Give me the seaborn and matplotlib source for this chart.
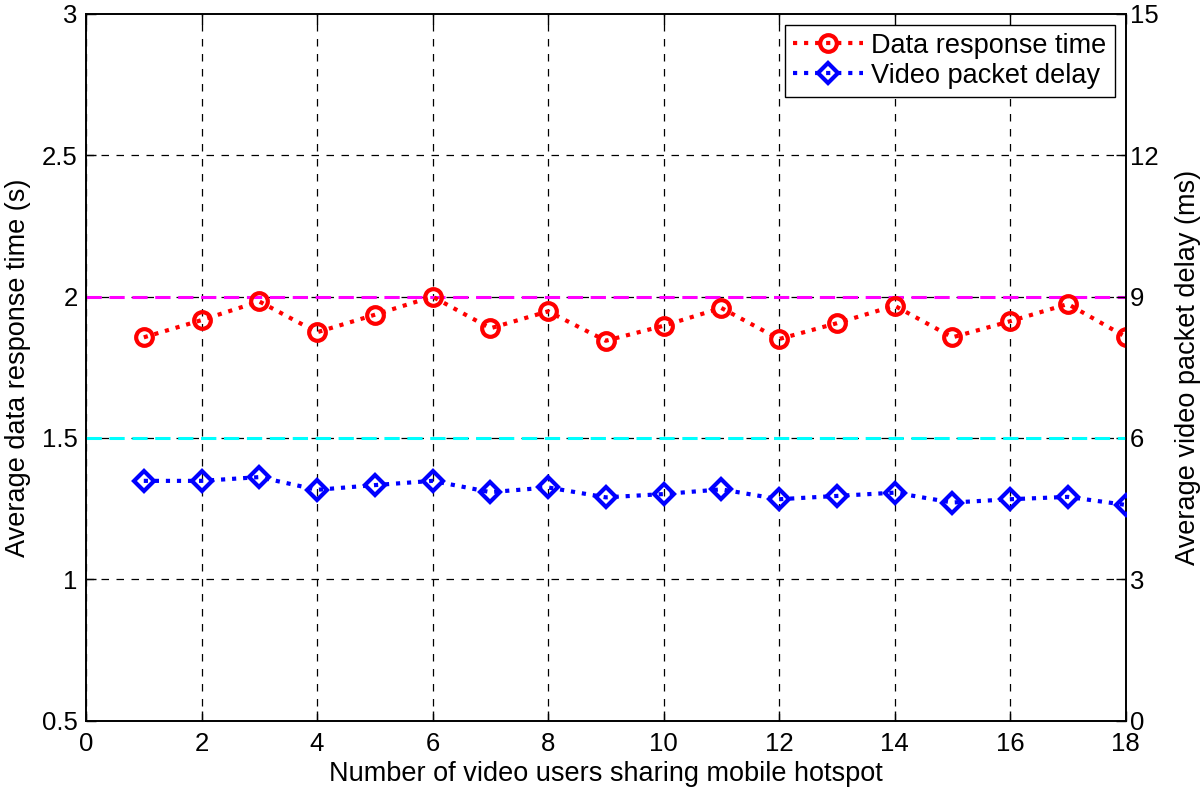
import numpy as np
import pandas as pd
import matplotlib
matplotlib.use('Agg')
import matplotlib.pyplot as plt
import seaborn as sns

# number of video users
users = list(range(1, 19))
# average data response time (s), left axis
response_time = [1.856, 1.917, 1.983, 1.874, 1.936, 2.000, 1.888, 1.948, 1.844,
                 1.897, 1.960, 1.850, 1.906, 1.968, 1.856, 1.913, 1.974, 1.858]
# average video packet delay (ms), right axis
packet_delay = [5.09, 5.09, 5.17, 4.90, 5.00, 5.09, 4.85, 4.95, 4.74,
                4.81, 4.91, 4.70, 4.77, 4.84, 4.63, 4.70, 4.75, 4.58]
response_limit = 2.0   # s
delay_limit = 6.0      # ms

sns.set_style('white')
plt.rcParams['font.family'] = ['Liberation Sans', 'DejaVu Sans']
plt.rcParams['text.color'] = 'black'
plt.rcParams['axes.labelcolor'] = 'black'
plt.rcParams['xtick.color'] = 'black'
plt.rcParams['ytick.color'] = 'black'

df = pd.DataFrame({'users': users, 'response': response_time, 'delay': packet_delay})

fig = plt.figure(figsize=(12, 7.93), dpi=100)
ax1 = fig.add_axes([0.0717, 0.0912, 0.8663, 0.8912])
ax2 = ax1.twinx()

# grid first so the data sits on top
for x in range(0, 19, 2):
    ax1.axvline(x, color='black', ls=(0, (6, 6)), lw=0.9, zorder=0)
for y in [1, 1.5, 2, 2.5]:
    ax1.axhline(y, color='black', ls=(0, (6, 6)), lw=0.9, zorder=0)

ax1.axhline(response_limit, color='#ff00ff', ls=(0, (5, 2.5)), lw=2.2, zorder=1)
ax2.axhline(delay_limit, color='#00ffff', ls=(0, (5, 2.5)), lw=2.2, zorder=1)

sns.lineplot(data=df, x='users', y='response', ax=ax1, color='red', ls=':', lw=3,
             marker='o', markersize=12, markerfacecolor='none', markeredgecolor='red',
             markeredgewidth=3, label='Data response time', legend=False, zorder=3)
sns.lineplot(data=df, x='users', y='delay', ax=ax2, color='blue', ls=':', lw=3,
             marker='D', markersize=10, markerfacecolor='none', markeredgecolor='blue',
             markeredgewidth=3, label='Video packet delay', legend=False, zorder=3)

ax1.set_xlim(0, 18)
ax1.set_ylim(0.5, 3)
ax2.set_ylim(0, 15)
ax1.set_xticks(range(0, 19, 2))
ax1.set_yticks([0.5, 1, 1.5, 2, 2.5, 3])
ax1.set_yticklabels(['0.5', '1', '1.5', '2', '2.5', '3'])
ax2.set_yticks([0, 3, 6, 9, 12, 15])

ax1.set_xlabel('Number of video users sharing mobile hotspot', fontsize=19.5, labelpad=4)
ax1.set_ylabel('Average data response time (s)', fontsize=19.5, labelpad=8)
ax2.set_ylabel('Average video packet delay (ms)', fontsize=19.5, labelpad=12)

for ax in (ax1, ax2):
    for s in ax.spines.values():
        s.set_color('black')
        s.set_linewidth(1.2)
ax1.tick_params(axis='both', direction='in', length=7, width=1, labelsize=18.5,
                top=True, bottom=True, left=True, right=False)
ax2.tick_params(axis='y', direction='in', length=7, width=1, labelsize=18.5, pad=3)
ax1.tick_params(axis='x', pad=8)
ax1.tick_params(axis='y', pad=6)

h1, l1 = ax1.get_legend_handles_labels()
h2, l2 = ax2.get_legend_handles_labels()
leg = ax2.legend(h1 + h2, l1 + l2, loc='upper right', fontsize=19.5, frameon=True,
                 fancybox=False, edgecolor='black', framealpha=1, handlelength=2.6,
                 handletextpad=0.3, numpoints=1, borderaxespad=0.4, labelspacing=0.15,
                 borderpad=0.3)
leg.get_frame().set_linewidth(1)

fig.savefig('out.png', dpi=100)
